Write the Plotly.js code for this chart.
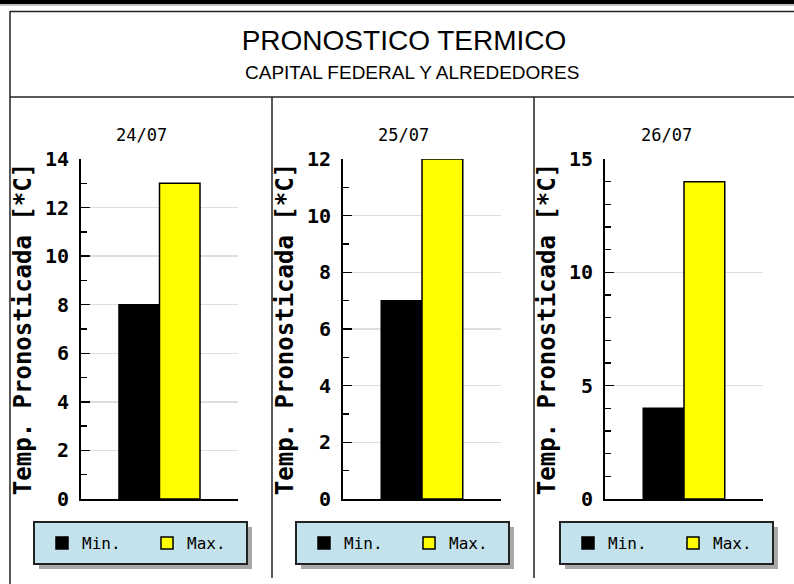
<!DOCTYPE html>
<html>
<head>
<meta charset="utf-8">
<script src="https://cdn.plot.ly/plotly-3.0.1.min.js"></script>
<style>html,body{margin:0;padding:0;background:#fff;}#chart{width:794px;height:584px;}</style>
</head>
<body>
<div id="chart"></div>
<script>
// ---- data ----
const fechas = ['24/07', '25/07', '26/07'];
const minimas = [8, 7, 4];
const maximas = [13, 12, 14];
const yTopes = [14, 12, 15];
const yPasos = [2, 2, 5];
const serieNombres = ['Min.', 'Max.'];
const titulo = 'PRONOSTICO TERMICO';
const subtitulo = 'CAPITAL FEDERAL Y ALREDEDORES';
const ejeTitulo = 'Temp. Pronosticada [*C]';

// ---- geometry helpers ----
const W = 794, H = 584;
const px = v => v / W;
const py = v => 1 - v / H;

const panelX = [[81, 238], [343, 501], [605, 763]];
const plotTop = 159, plotBot = 499;
const cellCenters = [141, 403, 666];
const legendX = [34, 296, 560];
const legendTop = 522, legendW = 213, legendH = 42;

const mono = '"DejaVu Sans Mono", "Liberation Mono", monospace';
const sans = '"Liberation Sans", Arial, sans-serif';

const traces = [];
const layout = {
  width: W, height: H,
  margin: {l: 0, r: 0, t: 0, b: 0, autoexpand: false},
  paper_bgcolor: '#ffffff',
  plot_bgcolor: '#ffffff',
  barmode: 'group',
  bargap: 0.484,
  bargroupgap: 0,
  title: {text: titulo, x: 404 / W, xanchor: 'center', xref: 'paper',
          y: py(40), yanchor: 'middle', yref: 'container',
          font: {family: sans, size: 28, color: '#000'}},
  annotations: [
    {text: subtitulo, xref: 'paper', yref: 'paper', x: 412 / W, y: py(72),
     xanchor: 'center', yanchor: 'middle', showarrow: false,
     font: {family: sans, size: 19, color: '#000'}}
  ],
  shapes: [
    // top heavy rule
    {type: 'rect', xref: 'paper', yref: 'paper', x0: 0, x1: 1, y0: py(0), y1: py(4),
     fillcolor: '#000', line: {width: 0}, layer: 'above'},
    {type: 'line', xref: 'paper', yref: 'paper', x0: 0, x1: 1, y0: py(5), y1: py(5),
     line: {color: '#888', width: 1}},
    // frame
    {type: 'line', xref: 'paper', yref: 'paper', x0: px(10), x1: 1, y0: py(11.5), y1: py(11.5),
     line: {color: '#222', width: 1.5}},
    {type: 'line', xref: 'paper', yref: 'paper', x0: px(10), x1: px(10), y0: py(11), y1: py(584),
     line: {color: '#222', width: 1.5}},
    {type: 'line', xref: 'paper', yref: 'paper', x0: px(10), x1: 1, y0: py(97), y1: py(97),
     line: {color: '#222', width: 1.5}},
    {type: 'line', xref: 'paper', yref: 'paper', x0: px(272), x1: px(272), y0: py(97), y1: py(578),
     line: {color: '#222', width: 1.5}},
    {type: 'line', xref: 'paper', yref: 'paper', x0: px(534), x1: px(534), y0: py(97), y1: py(578),
     line: {color: '#222', width: 1.5}}
  ]
};

fechas.forEach((f, i) => {
  const n = i === 0 ? '' : String(i + 1);
  const xa = 'x' + n, ya = 'y' + n;
  const lg = 'legend' + n;

  traces.push({
    type: 'bar', name: serieNombres[0], x: [f], y: [minimas[i]],
    xaxis: xa, yaxis: ya, legend: lg,
    marker: {color: '#000000', line: {color: '#000', width: 1.5}},
    hoverinfo: 'skip'
  });
  traces.push({
    type: 'bar', name: serieNombres[1], x: [f], y: [maximas[i]],
    xaxis: xa, yaxis: ya, legend: lg,
    marker: {color: '#ffff00', line: {color: '#000', width: 1.5}},
    hoverinfo: 'skip'
  });

  layout['xaxis' + n] = {
    domain: [px(panelX[i][0]), px(panelX[i][1])],
    anchor: ya,
    type: 'category',
    tickson: 'boundaries',
    ticks: 'inside', ticklen: 10, tickwidth: 1.5, tickcolor: '#000',
    showticklabels: false,
    showgrid: false,
    showline: true, linecolor: '#000', linewidth: 1.5,
    fixedrange: true, zeroline: false
  };
  layout['yaxis' + n] = {
    domain: [py(plotBot), py(plotTop)],
    anchor: xa,
    range: [0, yTopes[i]],
    dtick: yPasos[i], tick0: 0,
    ticks: 'inside', ticklen: 9, tickwidth: 1.5, tickcolor: '#000',
    minor: {dtick: 1, tick0: 0, ticks: 'inside', ticklen: 6, tickwidth: 1.5, tickcolor: '#000', showgrid: false},
    showgrid: true, gridcolor: '#dedede', gridwidth: 1.5,
    showline: true, linecolor: '#000', linewidth: 2,
    zeroline: false,
    ticklabelstandoff: 6,
    tickfont: {family: mono, size: 20, color: '#000', weight: 'bold'},
    title: {text: ejeTitulo, standoff: 7,
            font: {family: mono, size: 24, color: '#000', weight: 'bold'}},
    fixedrange: true
  };
  layout[lg] = {
    orientation: 'h',
    x: px(legendX[i] + 8), xanchor: 'left', xref: 'paper',
    y: py(legendTop + 4), yanchor: 'top', yref: 'paper',
    bgcolor: 'rgba(0,0,0,0)', borderwidth: 0,
    font: {family: mono, size: 16, color: '#000'},
    entrywidth: 60, entrywidthmode: 'pixels',
    traceorder: 'normal'
  };
  // legend box shadow and frame
  layout.shapes.push({type: 'rect', xref: 'paper', yref: 'paper',
    x0: px(legendX[i] + 5), x1: px(legendX[i] + legendW + 5),
    y0: py(legendTop + 5), y1: py(legendTop + legendH + 5),
    fillcolor: '#a8a8a8', line: {width: 0}, layer: 'below'});
  layout.shapes.push({type: 'rect', xref: 'paper', yref: 'paper',
    x0: px(legendX[i]), x1: px(legendX[i] + legendW),
    y0: py(legendTop), y1: py(legendTop + legendH),
    fillcolor: '#c4e2ec', line: {color: '#222', width: 2}, layer: 'below'});
  // date heading
  layout.annotations.push({text: f, xref: 'paper', yref: 'paper', x: px(cellCenters[i]), y: py(135),
    xanchor: 'center', yanchor: 'middle', showarrow: false,
    font: {family: mono, size: 17, color: '#000'}});
});

Plotly.newPlot('chart', traces, layout, {displayModeBar: false, staticPlot: true});
</script>
</body>
</html>
